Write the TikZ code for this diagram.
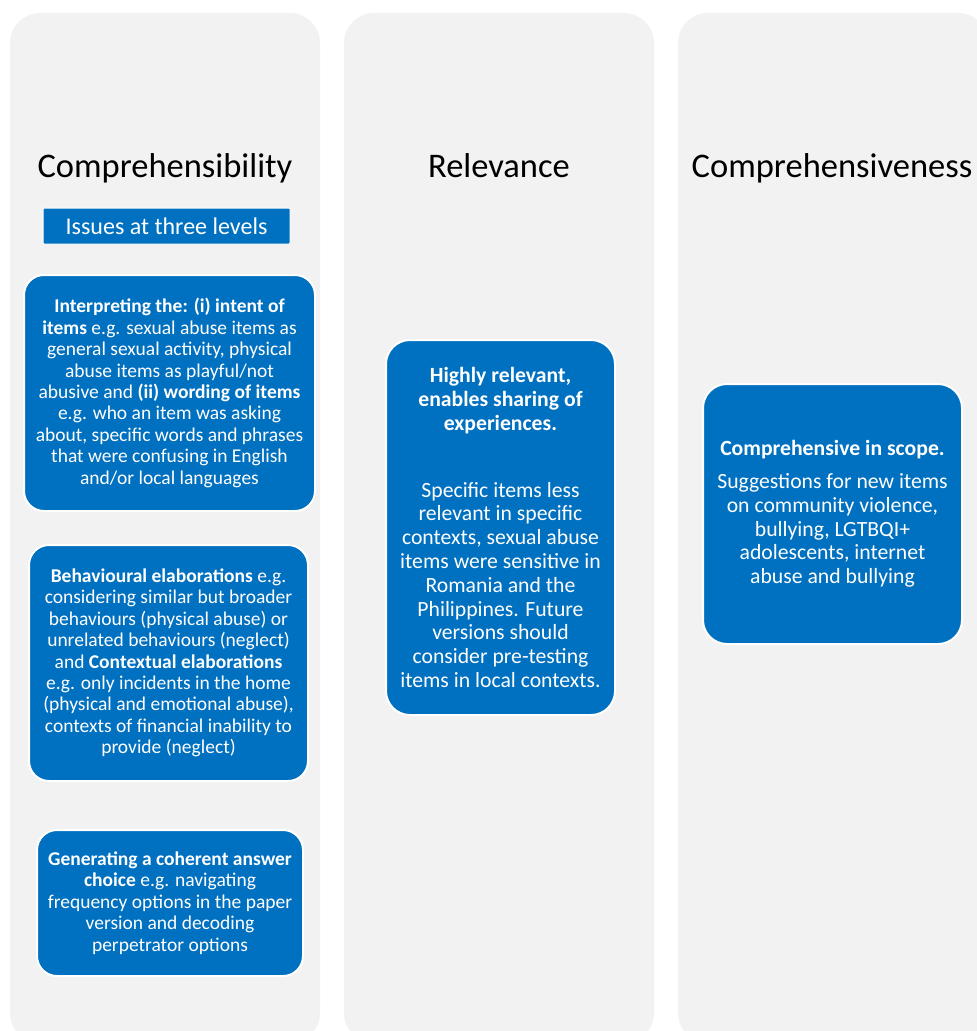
\documentclass[tikz,border=0pt]{standalone}
\usepackage{fontspec}
\setmainfont{Carlito}
\definecolor{panelgrey}{HTML}{F2F2F2}
\definecolor{cardblue}{HTML}{0070C0}

\begin{document}
\begin{tikzpicture}[x=1pt, y=-1pt,
        panel/.style={fill=panelgrey, rounded corners=30pt},
        header/.style={font=\fontsize{34.5}{40}\selectfont, text=black, anchor=base},
        card/.style={fill=cardblue, draw=white, line width=2pt, rounded corners=#1,
            text=white, align=center, inner sep=0pt},
        card/.default=20pt,
        smalltext/.style={font=\fontsize{19.5}{21.4}\selectfont},
        largetext/.style={font=\fontsize{21.7}{23.8}\selectfont}]
        % page frame
        \useasboundingbox (0,0) rectangle (977,1031);
        \clip (0,0) rectangle (977,1031);
        \fill[white] (0,0) rectangle (977,1031);

        % three grey columns, running off the bottom edge
        \foreach \px in {10,344,678}{
            \fill[panel] (\px,13) rectangle ++(310,1030);
        }

        % column headers
        \node[header] (compr-title) at (165,177) {Comprehensibility};
        \node[header] (rel-title)   at (499,177) {Relevance};
        \node[header] (scope-title) at (832,177) {Comprehensiveness};

        % first column: three levels
        \node[card=1pt, line width=1pt, minimum width=247, minimum height=36,
              font=\fontsize{24}{28}\selectfont] (issues) at (166.5,226) {Issues at three levels};

        \node[card, smalltext, minimum width=291, minimum height=236] (interp) at (169.5,393) {%
            \textbf{Interpreting the: (i) intent of}\\
            \textbf{items} e.g. sexual abuse items as\\
            general sexual activity, physical\\
            abuse items as playful/not\\
            abusive and \textbf{(ii) wording of items}\\
            e.g. who an item was asking\\
            about, specific words and phrases\\
            that were confusing in English\\
            and/or local languages};

        \node[card, smalltext, minimum width=279, minimum height=236] (elab) at (168.5,663) {%
            \textbf{Behavioural elaborations} e.g.\\
            considering similar but broader\\
            behaviours (physical abuse) or\\
            unrelated behaviours (neglect)\\
            and \textbf{Contextual elaborations}\\
            e.g. only incidents in the home\\
            (physical and emotional abuse),\\
            contexts of financial inability to\\
            provide (neglect)};

        \node[card, smalltext, minimum width=266, minimum height=146] (answer) at (170,903) {%
            \textbf{Generating a coherent answer}\\
            \textbf{choice} e.g. navigating\\
            frequency options in the paper\\
            version and decoding\\
            perpetrator options};

        % second column
        \node[card=24pt, largetext, minimum width=229, minimum height=375] (relevant) at (500.5,527.5) {%
            \textbf{Highly relevant,}\\
            \textbf{enables sharing of}\\
            \textbf{experiences.}\\[43pt]
            Specific items less\\
            relevant in specific\\
            contexts, sexual abuse\\
            items were sensitive in\\
            Romania and the\\
            Philippines. Future\\
            versions should\\
            consider pre-testing\\
            items in local contexts.};

        % third column
        \node[card=24pt, largetext, minimum width=259, minimum height=260] (scope) at (832.5,514) {%
            \textbf{Comprehensive in scope.}\\[9pt]
            Suggestions for new items\\
            on community violence,\\
            bullying, LGTBQI+\\
            adolescents, internet\\
            abuse and bullying};
    \end{tikzpicture}
\end{document}
